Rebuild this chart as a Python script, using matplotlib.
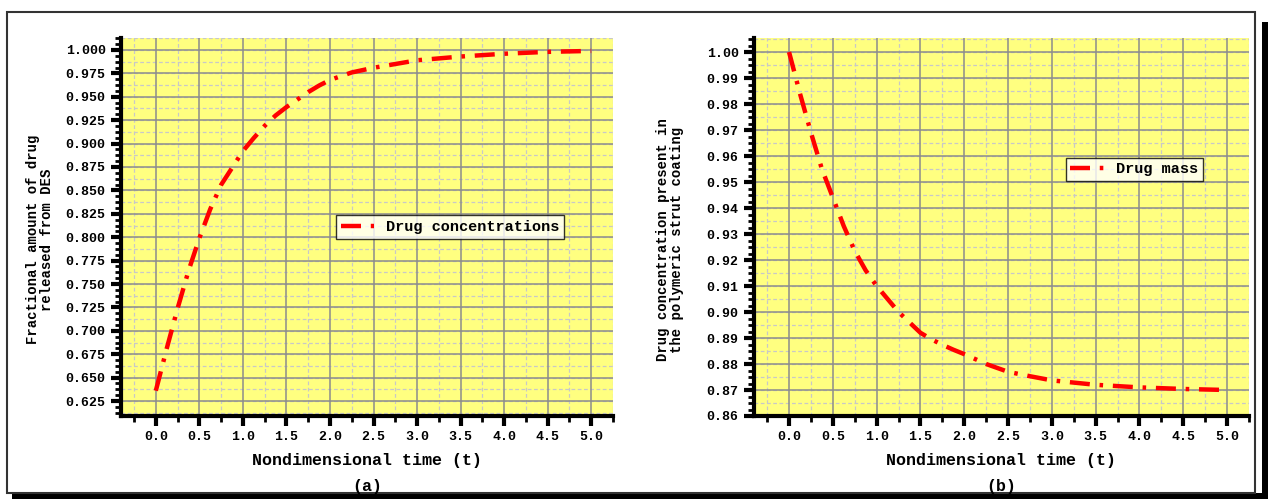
import numpy as np
import matplotlib
matplotlib.use("Agg")
import matplotlib.pyplot as plt
from matplotlib.patches import Rectangle
from matplotlib.ticker import MultipleLocator

# data
t = [0.0, 0.125, 0.25, 0.375, 0.5, 0.625, 0.75, 0.875, 1.0, 1.125, 1.25, 1.375, 1.5,
     1.625, 1.75, 1.875, 2.0, 2.25, 2.5, 2.75, 3.0, 3.5, 4.0, 4.5, 5.0]
released = [0.636, 0.681, 0.724, 0.764, 0.799, 0.830, 0.856, 0.874, 0.892, 0.906, 0.919,
            0.930, 0.939, 0.947, 0.955, 0.962, 0.968, 0.976, 0.981, 0.985, 0.989, 0.993,
            0.996, 0.998, 0.999]
coating = [1.000, 0.984, 0.969, 0.955, 0.944, 0.933, 0.9235, 0.916, 0.910, 0.905, 0.900,
           0.896, 0.892, 0.8895, 0.8874, 0.8855, 0.8838, 0.8800, 0.8770, 0.8753, 0.8737,
           0.8720, 0.8710, 0.8704, 0.8700]

plt.rcParams['font.family'] = ['Liberation Mono', 'DejaVu Sans Mono']
plt.rcParams['font.weight'] = 'bold'

W, H = 1268, 499
fig = plt.figure(figsize=(W / 100, H / 100), dpi=100)
fig.patch.set_facecolor('white')

# outer frame with drop shadow (behind the axes)
fig.patches.append(Rectangle((12 / W, 0), (W - 12) / W, 6 / H, transform=fig.transFigure,
                             facecolor='black', edgecolor='none', zorder=-2))
fig.patches.append(Rectangle(((W - 6) / W, 0), 6 / W, (H - 22) / H, transform=fig.transFigure,
                             facecolor='black', edgecolor='none', zorder=-2))
fig.patches.append(Rectangle((7 / W, 6 / H), (W - 13 - 7) / W, (H - 12 - 6) / H,
                             transform=fig.transFigure, facecolor='white',
                             edgecolor='#333333', linewidth=1.5, zorder=-1))


def make_panel(rect, x, y, ylim, ymajor, yfmt, label, ylabel, leg_loc, tag, ylab_x):
    ax = fig.add_axes(rect)
    ax.set_zorder(1)
    ax.set_facecolor('#ffff80')
    ax.set_xlim(-0.4, 5.25)
    ax.set_ylim(*ylim)
    ax.xaxis.set_major_locator(MultipleLocator(0.5))
    ax.xaxis.set_minor_locator(MultipleLocator(0.25))
    ax.yaxis.set_major_locator(MultipleLocator(ymajor))
    ax.yaxis.set_minor_locator(MultipleLocator(ymajor / 4))
    ax.yaxis.set_major_formatter(plt.FormatStrFormatter(yfmt))
    ax.xaxis.set_major_formatter(plt.FormatStrFormatter('%.1f'))

    # grid: solid at majors, dashed at x minors and y half-steps
    for v in np.arange(-0.25, 5.3, 0.5):
        ax.axvline(v, color='#c8c8c8', lw=0.9, ls=(0, (3, 2)), zorder=0.5)
    for v in np.arange(0.0, 5.1, 0.5):
        ax.axvline(v, color='#8c8c8c', lw=1.1, zorder=0.6)
    y0 = np.ceil(ylim[0] / ymajor - 1e-6) * ymajor
    for v in np.arange(y0 - ymajor / 2, ylim[1], ymajor / 2):
        ax.axhline(v, color='#c8c8c8', lw=0.9, ls=(0, (3, 2)), zorder=0.5)
    for v in np.arange(y0, ylim[1], ymajor):
        ax.axhline(v, color='#8c8c8c', lw=1.1, zorder=0.6)

    line, = ax.plot(x, y, color='red', lw=3.2, label=label, zorder=3)
    line.set_dashes([4.5, 2.2, 0.8, 2.2])

    for s in ['top', 'right']:
        ax.spines[s].set_visible(False)
    for s in ['left', 'bottom']:
        ax.spines[s].set_linewidth(3)
        ax.spines[s].set_zorder(5)
    ax.tick_params(which='major', direction='out', length=7, width=3, labelsize=9.5,
                   pad=4)
    ax.tick_params(which='minor', direction='out', length=4, width=2)
    for lab in ax.get_xticklabels() + ax.get_yticklabels():
        lab.set_fontweight('bold')

    leg = ax.legend(loc='center', bbox_to_anchor=leg_loc, frameon=True, fancybox=False,
                    prop={'size': 11, 'weight': 'bold'}, handlelength=2.2,
                    borderpad=0.3, handletextpad=0.8, borderaxespad=0)
    leg.get_frame().set_edgecolor('black')
    leg.get_frame().set_linewidth(1)

    cx = rect[0] + rect[2] / 2
    fig.text(cx, 1 - 461 / H, 'Nondimensional time (t)', ha='center', va='center',
             fontsize=12, fontweight='bold')
    fig.text(cx, 1 - 486 / H, tag, ha='center', va='center', fontsize=12,
             fontweight='bold')
    fig.text(ylab_x, 0.52, ylabel, rotation=90, ha='center', va='center',
             fontsize=10, fontweight='bold', multialignment='center', linespacing=1.0)
    return ax


top = 1 - 38 / H
bot = 1 - 416 / H
make_panel([121 / W, bot, (613 - 121) / W, top - bot], t, released, (0.609, 1.0128), 0.025,
           '%.3f', 'Drug concentrations', 'Fractional amount of drug\nreleased from DES',
           (0.669, 0.5), '(a)', 40 / W)
make_panel([754 / W, bot, (1249 - 754) / W, top - bot], t, coating, (0.86, 1.0054), 0.01,
           '%.2f', 'Drug mass', 'Drug concentration present in\nthe polymeric strut coating',
           (0.768, 0.653), '(b)', 670 / W)

fig.savefig('out.png', dpi=100)
